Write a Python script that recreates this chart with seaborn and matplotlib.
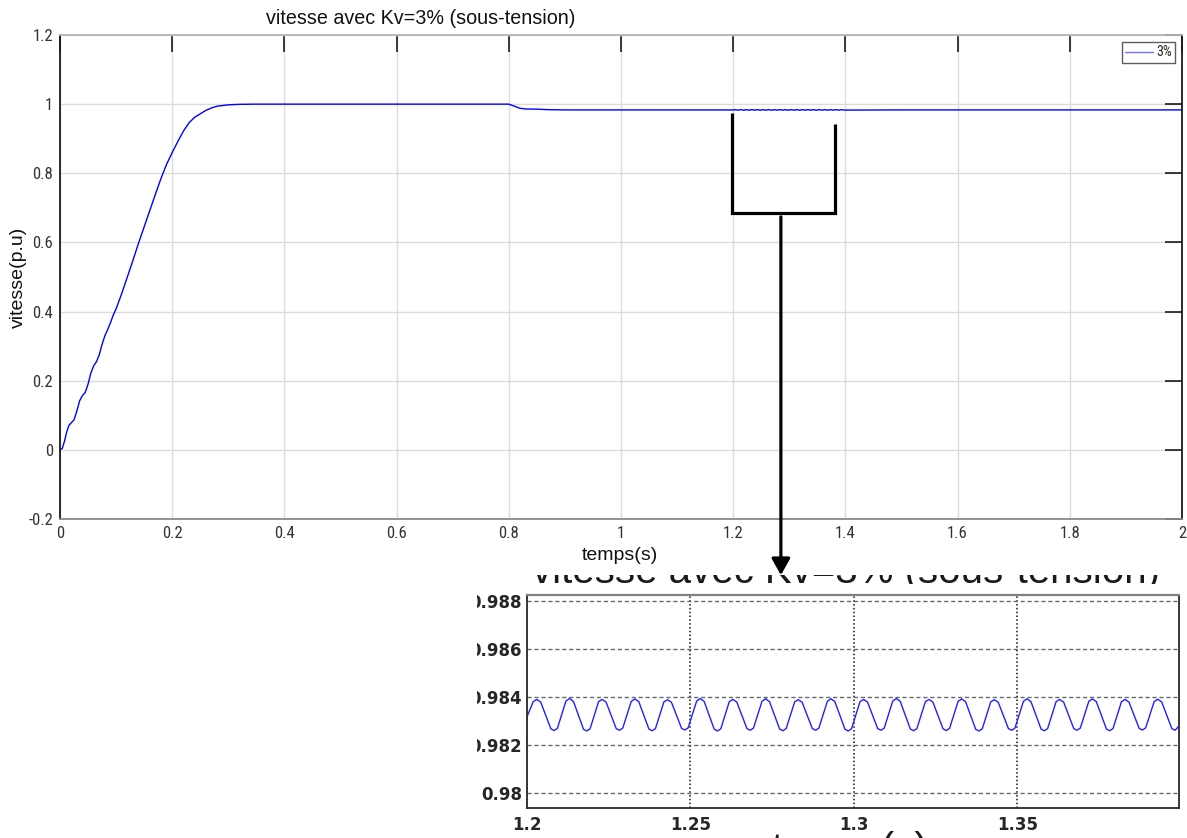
import matplotlib
matplotlib.use("Agg")
import numpy as np
import pandas as pd
import matplotlib.pyplot as plt
import seaborn as sns
from matplotlib import font_manager
from matplotlib.transforms import Bbox, TransformedBbox

# ---- speed response (p.u.) : start-up, steady state, under-voltage at t = 0.8 s
t_coarse = [0.000, 0.004, 0.008, 0.012, 0.016, 0.020, 0.025, 0.030, 0.035, 0.040,
            0.045, 0.050, 0.055, 0.060, 0.065, 0.070, 0.075, 0.080, 0.085, 0.090,
            0.095, 0.100, 0.110, 0.120, 0.130, 0.140, 0.150, 0.160, 0.170, 0.180,
            0.190, 0.200, 0.210, 0.220, 0.230, 0.240, 0.250, 0.260, 0.270, 0.280,
            0.300, 0.320, 0.350, 0.500, 0.650, 0.800, 0.810, 0.820, 0.830, 0.850,
            0.870, 0.900, 1.000, 1.100]
v_coarse = [0.000, 0.004, 0.025, 0.052, 0.071, 0.078, 0.087, 0.112, 0.142, 0.157,
            0.166, 0.190, 0.222, 0.243, 0.255, 0.275, 0.305, 0.330, 0.348, 0.368,
            0.390, 0.408, 0.452, 0.500, 0.548, 0.598, 0.645, 0.692, 0.739, 0.785,
            0.826, 0.860, 0.892, 0.922, 0.946, 0.962, 0.972, 0.982, 0.989, 0.994,
            0.998, 0.9995, 1.000, 1.000, 1.000, 1.000, 0.994, 0.988, 0.986, 0.9855,
            0.9840, 0.9833, 0.9833, 0.9833]
t_tail = [1.500, 1.600, 1.700, 1.800, 1.900, 2.000]
v_tail = [0.9833, 0.9833, 0.9833, 0.9833, 0.9833, 0.9833]

# ---- 100 Hz ripple between 1.2 s and 1.4 s (crests, troughs and their shoulders)
peak_t = [1.2030, 1.2130, 1.2230, 1.2330, 1.2430, 1.2530, 1.2630, 1.2730, 1.2830, 1.2930,
          1.3030, 1.3130, 1.3230, 1.3330, 1.3430, 1.3530, 1.3630, 1.3730, 1.3830, 1.3930]
peak_v = [0.98390, 0.98394, 0.98390, 0.98392, 0.98389, 0.98394, 0.98390, 0.98393, 0.98389, 0.98393,
          0.98390, 0.98394, 0.98390, 0.98392, 0.98389, 0.98393, 0.98390, 0.98392, 0.98390, 0.98391]
pre_peak_t = [1.2019, 1.2119, 1.2219, 1.2319, 1.2419, 1.2519, 1.2619, 1.2719, 1.2819, 1.2919,
              1.3019, 1.3119, 1.3219, 1.3319, 1.3419, 1.3519, 1.3619, 1.3719, 1.3819, 1.3919]
pre_peak_v = [0.98381, 0.98383, 0.98381, 0.98382, 0.98380, 0.98383, 0.98381, 0.98382, 0.98380, 0.98382,
              0.98381, 0.98383, 0.98381, 0.98382, 0.98380, 0.98382, 0.98381, 0.98382, 0.98381, 0.98381]
post_peak_t = [1.2042, 1.2142, 1.2242, 1.2342, 1.2442, 1.2542, 1.2642, 1.2742, 1.2842, 1.2942,
               1.3042, 1.3142, 1.3242, 1.3342, 1.3442, 1.3542, 1.3642, 1.3742, 1.3842, 1.3942]
post_peak_v = [0.98379, 0.98382, 0.98379, 0.98381, 0.98378, 0.98382, 0.98379, 0.98381, 0.98378, 0.98381,
               0.98379, 0.98382, 0.98379, 0.98381, 0.98378, 0.98381, 0.98379, 0.98381, 0.98379, 0.98380]
trough_t = [1.2083, 1.2183, 1.2283, 1.2383, 1.2483, 1.2583, 1.2683, 1.2783, 1.2883, 1.2983,
            1.3083, 1.3183, 1.3283, 1.3383, 1.3483, 1.3583, 1.3683, 1.3783, 1.3883, 1.3983]
trough_v = [0.98261, 0.98259, 0.98262, 0.98260, 0.98263, 0.98259, 0.98262, 0.98260, 0.98262, 0.98259,
            0.98262, 0.98260, 0.98261, 0.98259, 0.98262, 0.98260, 0.98262, 0.98260, 0.98263, 0.98262]
pre_trough_t = [1.2073, 1.2173, 1.2273, 1.2373, 1.2473, 1.2573, 1.2673, 1.2773, 1.2873, 1.2973,
                1.3073, 1.3173, 1.3273, 1.3373, 1.3473, 1.3573, 1.3673, 1.3773, 1.3873, 1.3973]
pre_trough_v = [0.98268, 0.98266, 0.98269, 0.98267, 0.98270, 0.98266, 0.98269, 0.98267, 0.98269, 0.98266,
                0.98269, 0.98267, 0.98268, 0.98266, 0.98269, 0.98267, 0.98269, 0.98267, 0.98270, 0.98269]
post_trough_t = [1.2093, 1.2193, 1.2293, 1.2393, 1.2493, 1.2593, 1.2693, 1.2793, 1.2893, 1.2993,
                 1.3093, 1.3193, 1.3293, 1.3393, 1.3493, 1.3593, 1.3693, 1.3793, 1.3893]
post_trough_v = [0.98270, 0.98268, 0.98271, 0.98269, 0.98272, 0.98268, 0.98271, 0.98269, 0.98271, 0.98268,
                 0.98271, 0.98269, 0.98270, 0.98268, 0.98271, 0.98269, 0.98271, 0.98269, 0.98272]
edge_t = [1.2000, 1.3995]
edge_v = [0.98318, 0.98280]

# ---- axes ticks
x_ticks = [0, 0.2, 0.4, 0.6, 0.8, 1.0, 1.2, 1.4, 1.6, 1.8, 2.0]
x_tick_labels = ["0", "0.2", "0.4", "0.6", "0.8", "1", "1.2", "1.4", "1.6", "1.8", "2"]
y_ticks = [-0.2, 0, 0.2, 0.4, 0.6, 0.8, 1.0, 1.2]
y_tick_labels = ["-0.2", "0", "0.2", "0.4", "0.6", "0.8", "1", "1.2"]
zoom_x_ticks = [1.2, 1.25, 1.3, 1.35]
zoom_x_labels = ["1.2", "1.25", "1.3", "1.35"]
zoom_y_ticks = [0.980, 0.982, 0.984, 0.986, 0.988]
zoom_y_labels = ["0.98", "0.982", "0.984", "0.986", "0.988"]

title = "vitesse avec Kv=3% (sous-tension)"

ripple = pd.DataFrame({
    "t": peak_t + pre_peak_t + post_peak_t + trough_t + pre_trough_t + post_trough_t + edge_t,
    "v": peak_v + pre_peak_v + post_peak_v + trough_v + pre_trough_v + post_trough_v + edge_v,
}).sort_values("t")
speed = pd.concat([pd.DataFrame({"t": t_coarse, "v": v_coarse}),
                   ripple,
                   pd.DataFrame({"t": t_tail, "v": v_tail})]).sort_values("t")

sns.set_theme(style="white")
plt.rcParams["font.family"] = ["Liberation Sans", "DejaVu Sans"]

names = {f.name for f in font_manager.fontManager.ttflist}
narrow = next((n for n in ["Liberation Sans Narrow", "Roboto Condensed",
                           "Open Sans Condensed", "Arial Narrow"] if n in names),
              "DejaVu Sans")

W, H = 1187, 838
fig = plt.figure(figsize=(W / 100, H / 100), dpi=100)
fig.patch.set_facecolor("white")

# ---------------- main axes ----------------
ax = fig.add_axes([60 / W, 1 - 519 / H, 1122 / W, 484 / H])
sns.lineplot(data=speed, x="t", y="v", ax=ax, color="#0000ff", linewidth=1.0,
             label="3%", errorbar=None, estimator=None)
ax.set_xlim(0, 2)
ax.set_ylim(-0.2, 1.2)
ax.set_xticks(x_ticks, x_tick_labels)
ax.set_yticks(y_ticks, y_tick_labels)
ax.set_xlabel("")
ax.set_ylabel("")
ax.grid(True, color="#dcdcdc", linewidth=1.0)
ax.set_axisbelow(True)
ax.tick_params(direction="in", length=12, width=1.2, color="#1a1a1a",
               top=True, right=True, labelsize=12, labelcolor="#333333", pad=5)
for lbl in ax.get_xticklabels() + ax.get_yticklabels():
    lbl.set_fontfamily(narrow)
    lbl.set_fontstretch("condensed")
for side, col in [("left", "#1a1a1a"), ("right", "#1a1a1a"),
                  ("top", "#b5b5b5"), ("bottom", "#8a8a8a")]:
    ax.spines[side].set_color(col)
    ax.spines[side].set_linewidth(1.3)

leg = ax.legend(loc="upper right", prop={"family": narrow, "size": 10},
                frameon=True, fancybox=False, edgecolor="#333333",
                handlelength=2.0, borderaxespad=0.5, borderpad=0.25,
                handletextpad=0.2)
leg.get_frame().set_linewidth(1.0)
for line in leg.get_lines():
    line.set_color("#7070ff")

fig.text(421 / W, 1 - 18 / H, title, ha="center", va="center", fontsize=14.2, color="#111111")
fig.text(620 / W, 1 - 556 / H, "temps(s)", ha="center", va="center", fontsize=14, color="#111111")
fig.text(18 / W, 1 - 277 / H, "vitesse(p.u)", ha="center", va="center", rotation=90,
         fontsize=14, color="#111111")

# bracket around the zoomed window and arrow down to the detail view
br_t0, br_t1 = 1.197, 1.381
br_left_top, br_right_top, br_base = 0.9735, 0.9425, 0.684
ax.plot([br_t0, br_t0, br_t1, br_t1], [br_left_top, br_base, br_base, br_right_top],
        color="black", linewidth=2.3, solid_joinstyle="miter", solid_capstyle="butt",
        clip_on=False)
arrow_t = 1.285
ann = ax.annotate("", xy=(arrow_t, -0.116), xycoords=("data", "axes fraction"),
                  xytext=(arrow_t, 0.674), textcoords="data",
                  arrowprops=dict(arrowstyle="-|>,head_length=0.5,head_width=0.28",
                                  mutation_scale=20, lw=2.3, color="black",
                                  shrinkA=0, shrinkB=0),
                  annotation_clip=False)
ann.arrow_patch.set_clip_on(False)

# ---------------- detail view ----------------
axin = fig.add_axes([527 / W, 1 - 808 / H, 652 / W, 213 / H])
sns.lineplot(data=ripple, x="t", y="v", ax=axin, color="#2020ff", linewidth=1.0,
             errorbar=None, estimator=None, legend=False)
axin.set_xlim(1.2, 1.3995)
axin.set_ylim(0.97939, 0.98824)
axin.set_xticks(zoom_x_ticks, zoom_x_labels)
axin.set_yticks(zoom_y_ticks, zoom_y_labels)
axin.set_xlabel("")
axin.set_ylabel("")
axin.yaxis.grid(True, linestyle=(0, (3, 2)), color="#6a6a6a", linewidth=1.0)
axin.xaxis.grid(True, linestyle=(0, (1, 1.5)), color="#111111", linewidth=1.1)
axin.tick_params(length=0, labelsize=12, labelcolor="#262626")
axin.tick_params(axis="y", pad=3.6)
axin.tick_params(axis="x", pad=5.5)
for lbl in axin.get_xticklabels() + axin.get_yticklabels():
    lbl.set_fontfamily("DejaVu Sans")
    lbl.set_fontweight("bold")
for side in ["left", "right", "bottom"]:
    axin.spines[side].set_color("#2a2a2a")
    axin.spines[side].set_linewidth(1.3)
axin.spines["top"].set_color("#808080")
axin.spines["top"].set_linewidth(1.6)

cut_left = TransformedBbox(Bbox([[477 / W, 0], [1, 1]]), fig.transFigure)
for lbl in axin.get_yticklabels():
    lbl.set_clip_box(cut_left)
    lbl.set_clip_on(True)

# the detail view's own title: only a thin strip of it shows above the frame
strip = fig.add_axes([520 / W, 1 - 584 / H, (W - 520) / W, 9 / H])
strip.set_axis_off()
strip.patch.set_alpha(0)
t_in = strip.text(846 / W, 1 - 583 / H, title, transform=fig.transFigure,
                  ha="center", va="baseline", fontsize=29, color="#1a1a1a",
                  clip_on=True)
t_in.set_clip_box(strip.bbox)
fig.text(850 / W, 1 - 831 / H, "temps(s)", ha="center", va="top", fontsize=29, color="#1a1a1a")

fig.savefig("out.png", dpi=100, facecolor="white")
